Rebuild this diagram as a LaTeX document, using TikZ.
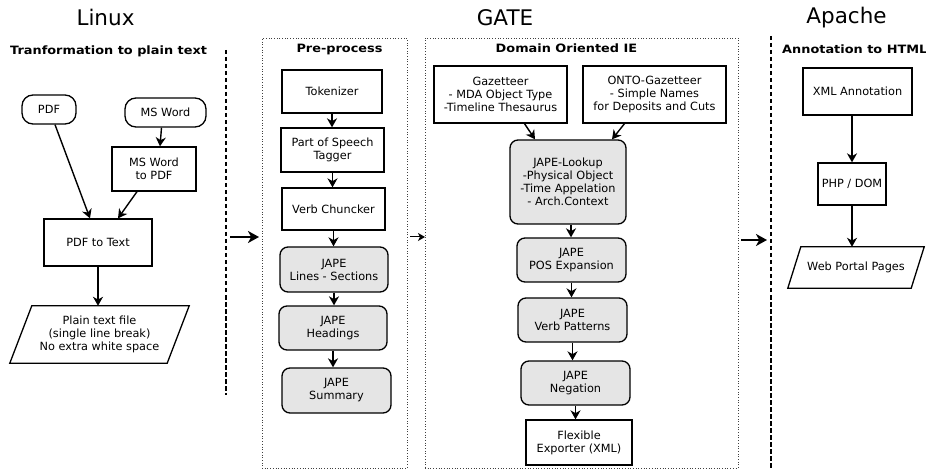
\documentclass[tikz,border=0pt]{standalone}
\usepackage{fontspec}
\setmainfont{DejaVu Sans}
\newfontfamily\headfont[FakeStretch=1.12]{DejaVu Sans}
\usetikzlibrary{arrows.meta,calc}
\begin{document}
\begin{tikzpicture}[x=1pt,y=-1pt,
  box/.style={draw, line width=1.3pt, inner sep=0pt, align=center, font=\fontsize{11.3}{13}\selectfont},
  gbox/.style={box, rounded corners=8pt, fill=gray!20},
  term/.style={box, rounded corners=11pt},
  txt/.style={inner sep=0pt, align=center, font=\fontsize{11.3}{13}\selectfont},
  title/.style={inner sep=0pt, font=\fontsize{21.5}{25}\selectfont},
  head/.style={inner sep=0pt, font=\headfont\bfseries\fontsize{11.5}{13}\selectfont},
  frame/.style={draw=black!75, dotted, line width=0.7pt, inner sep=0pt},
  sep/.style={line width=1.5pt, dash pattern=on 4.5pt off 2.5pt},
  arr/.style={line width=1.4pt, -{Stealth[length=9pt,width=10pt,inset=2.8pt]}},
  bigarr/.style={line width=1.8pt, -{Stealth[length=11pt,width=12pt,inset=3.2pt]}}
]
\useasboundingbox (0,0) rectangle (926,470);
% titles
\node[title] (tlinux) at (105.5,17) {Linux};
\node[title] (tgate) at (505,18) {GATE};
\node[title] (tapache) at (846.5,18) {Apache};
% separators
\coordinate (s1a) at (226,50); \coordinate (s1b) at (226,395);
\coordinate (s2a) at (771,36); \coordinate (s2b) at (771,468);
\draw[sep] (s1a) -- (s1b);
\draw[sep] (s2a) -- (s2b);
% frames
\node[frame, minimum width=145pt, minimum height=430pt] (fpre) at (334.5,253) {};
\node[frame, minimum width=313pt, minimum height=430pt] (fdom) at (581.5,253) {};
% headers
\node[head, anchor=west] (hlinux) at (10,51) {Tranformation to plain text};
\node[head] (hpre) at (339.5,50) {Pre-process};
\node[head] (hdom) at (566.5,48) {Domain Oriented IE};
\node[head, anchor=west] (hapache) at (782,49) {Annotation to HTML};
% Linux column
\node[term, minimum width=54pt, minimum height=29pt] (pdf) at (49,109.5) {PDF};
\node[term, minimum width=81pt, minimum height=29pt] (msword) at (165.5,112.5) {MS Word};
\node[box, minimum width=84pt, minimum height=44pt] (msw2pdf) at (154,169) {MS Word\\to PDF};
\node[box, minimum width=108pt, minimum height=47pt] (p2t) at (98,242.5) {PDF to Text};
\node[txt, minimum width=179pt, minimum height=57pt] (plain) at (99.5,334.5) {Plain text file\\(single line break)\\No extra white space};
\draw[line width=1.3pt] (plain.south west) -- ($(plain.south east)+(-22,0)$) -- (plain.north east) -- ($(plain.north west)+(22,0)$) -- cycle;
\draw[arr] ($(pdf.south)+(6,0)$) -- ($(p2t.north)+(-8,0)$);
\draw[arr] ($(msword.south)+(-4,0)$) -- ($(msw2pdf.north)+(6,0)$);
\draw[arr] ($(msw2pdf.south)+(-17,0)$) -- ($(p2t.north)+(20,0)$);
\draw[arr] (p2t.south) -- (p2t.south |- plain.north);
% Pre-process
\node[box, minimum width=100pt, minimum height=43pt] (tok) at (332,91.5) {Tokenizer};
\node[box, minimum width=103pt, minimum height=44pt] (pos) at (332.5,150) {Part of Speech\\Tagger};
\node[box, minimum width=103pt, minimum height=42pt] (verb) at (333.5,209) {Verb Chuncker};
\node[gbox, minimum width=108pt, minimum height=45pt] (lines) at (334,269.5) {JAPE\\Lines - Sections};
\node[gbox, minimum width=108pt, minimum height=44pt] (headings) at (333,328) {JAPE\\Headings};
\node[gbox, minimum width=109pt, minimum height=45pt] (summary) at (336.5,390.5) {JAPE\\Summary};
\draw[arr] (tok.south) -- (tok.south |- pos.north);
\draw[arr] (pos.south) -- (pos.south |- verb.north);
\draw[arr] (verb.south) -- (verb.south |- lines.north);
\draw[arr] (lines.south) -- (lines.south |- headings.north);
\draw[arr] (headings.south) -- (headings.south |- summary.north);
% Domain Oriented IE
\node[box, minimum width=133pt, minimum height=57pt] (gaz) at (500.5,94.5) {Gazetteer\\- MDA Object Type\\-Timeline Thesaurus};
\node[box, minimum width=143pt, minimum height=57pt] (onto) at (654.5,94.5) {ONTO-Gazetteer\\- Simple Names\\for Deposits and Cuts};
\node[gbox, minimum width=116pt, minimum height=84pt] (lookup) at (568,182) {JAPE-Lookup\\-Physical Object\\-Time Appelation\\- Arch.Context};
\node[gbox, minimum width=109pt, minimum height=44pt] (posexp) at (571.5,260) {JAPE\\POS Expansion};
\node[gbox, minimum width=109pt, minimum height=44pt] (verbpat) at (572.5,320) {JAPE\\Verb Patterns};
\node[gbox, minimum width=109pt, minimum height=44pt] (neg) at (575.5,383) {JAPE\\Negation};
\node[box, minimum width=106pt, minimum height=45pt] (exp) at (579,442.5) {Flexible\\Exporter (XML)};
\draw[arr] ($(gaz.south)+(24,0)$) -- ($(lookup.north)+(-33,0)$);
\draw[arr] ($(onto.south)+(-30,0)$) -- ($(lookup.north)+(44,0)$);
\draw[arr] ($(lookup.south)+(3,0)$) -- ($(lookup.south |- posexp.north)+(3,0)$);
\draw[arr] (posexp.south) -- (posexp.south |- verbpat.north);
\draw[arr] (verbpat.south) -- (verbpat.south |- neg.north);
\draw[arr] (neg.south) -- (neg.south |- exp.north);
% Apache
\node[box, minimum width=109pt, minimum height=47pt] (xml) at (857.5,91.5) {XML Annotation};
\node[box, minimum width=68pt, minimum height=42pt] (php) at (852,184) {PHP / DOM};
\node[txt, minimum width=136pt, minimum height=41pt] (web) at (856,267.5) {Web Portal Pages};
\draw[line width=1.3pt] (web.south west) -- ($(web.south east)+(-13,0)$) -- (web.north east) -- ($(web.north west)+(13,0)$) -- cycle;
\draw[arr] (xml.south -| php) -- (php.north);
\draw[arr] (php.south) -- (php.south |- web.north);
% stage arrows
\coordinate (a1s) at (230,237); \coordinate (a1e) at (259,237);
\coordinate (a2s) at (410,237); \coordinate (a2e) at (425,237);
\coordinate (a3s) at (741,240); \coordinate (a3e) at (767,240);
\draw[bigarr] (a1s) -- (a1e);
\draw[line width=1pt, -{Stealth[length=7pt,width=8pt,inset=2pt]}] (a2s) -- (a2e);
\draw[bigarr] (a3s) -- (a3e);
\end{tikzpicture}
\end{document}
